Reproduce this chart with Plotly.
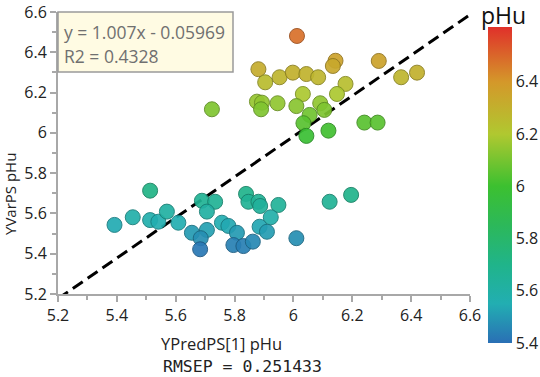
import plotly.graph_objects as go
from plotly.colors import sample_colorscale

# Data
y_pred = [6.012, 5.881, 5.904, 5.953, 5.998, 6.044, 6.084, 6.143, 6.134, 6.177,
          6.148, 6.032, 5.876, 5.893, 5.890, 5.946, 6.010, 6.091, 6.105, 6.055,
          6.034, 6.044, 6.119, 6.241, 6.286, 5.723, 6.290, 6.366, 6.420,
          5.392, 5.454, 5.513, 5.513, 5.541, 5.570, 5.609, 5.655, 5.689, 5.734,
          5.706, 5.706, 5.685, 5.683, 5.757, 5.779, 5.808, 5.796, 5.830, 5.862,
          5.839, 5.847, 5.881, 5.887, 5.949, 5.923, 5.885, 5.910, 6.010, 6.123,
          6.196]
y_var = [6.481, 6.316, 6.251, 6.276, 6.299, 6.292, 6.276, 6.358, 6.332, 6.243,
         6.193, 6.193, 6.155, 6.150, 6.117, 6.147, 6.133, 6.147, 6.114, 6.089,
         6.048, 5.985, 6.011, 6.051, 6.051, 6.117, 6.357, 6.276, 6.299,
         5.543, 5.581, 5.713, 5.567, 5.559, 5.609, 5.554, 5.504, 5.663, 5.658,
         5.609, 5.518, 5.477, 5.422, 5.554, 5.538, 5.504, 5.443, 5.438, 5.460,
         5.697, 5.658, 5.658, 5.637, 5.642, 5.581, 5.534, 5.509, 5.477, 5.658,
         5.692]

slope = 1.007
intercept = -0.05969
r2 = 0.4328
rmsep = 0.251433
x_range = [5.2, 6.6]
tick_vals = [5.2, 5.4, 5.6, 5.8, 6.0, 6.2, 6.4, 6.6]
tick_text = ["5.2", "5.4", "5.6", "5.8", "6", "6.2", "6.4", "6.6"]
cbar_ticks = [5.4, 5.6, 5.8, 6.0, 6.2, 6.4]
cbar_text = ["5.4", "5.6", "5.8", "6", "6.2", "6.4"]
cmin, cmax = 5.4, 6.61

colorscale = [
    [0.0, "#2a6fb5"],
    [0.124, "#22aeb2"],
    [0.248, "#20b48a"],
    [0.372, "#2cb85a"],
    [0.496, "#3cc030"],
    [0.661, "#b0c830"],
    [0.826, "#d4982a"],
    [1.0, "#e0302a"],
]

# darker outline per point
norm = [(v - cmin) / (cmax - cmin) for v in y_var]
fills = sample_colorscale(colorscale, norm, colortype="rgb")
def darker(c, f=0.72):
    nums = [float(t) for t in c[c.index("(") + 1:c.index(")")].split(",")]
    return "rgb(%d,%d,%d)" % tuple(int(n * f) for n in nums[:3])
edges = [darker(c) for c in fills]

FONT = "Open Sans, Noto Sans, sans-serif"

fig = go.Figure()

# regression line
line_x = x_range
line_y = [slope * v + intercept for v in line_x]
fig.add_trace(go.Scatter(
    x=line_x, y=line_y, mode="lines",
    line=dict(color="black", width=3, dash="12px,6px"),
    hoverinfo="skip", showlegend=False, cliponaxis=True))

fig.add_trace(go.Scatter(
    x=y_pred, y=y_var, mode="markers",
    marker=dict(size=15, color=y_var, colorscale=colorscale, cmin=cmin, cmax=cmax,
                opacity=0.92,
                line=dict(color=edges, width=1),
                showscale=True,
                colorbar=dict(
                    x=(488 - 58) / 412, xanchor="left", xref="paper",
                    y=(294 - 185) / 282, yanchor="middle", yref="paper",
                    lenmode="pixels", len=316, thickness=24,
                    thicknessmode="pixels",
                    outlinewidth=0, ticks="", tickvals=cbar_ticks,
                    ticktext=cbar_text,
                    tickfont=dict(family=FONT, size=16, color="#222"),
                    ypad=0, xpad=0)),
    showlegend=False))

axis_common = dict(
    showgrid=False, zeroline=False, showline=True, linecolor="#a8a8a8", linewidth=2,
    ticks="outside", ticklen=6, tickwidth=2, tickcolor="#a8a8a8",
    tickvals=tick_vals, ticktext=tick_text,
    minor=dict(dtick=0.1, ticks="outside", ticklen=4, tickwidth=2, tickcolor="#a8a8a8"),
    tickfont=dict(family=FONT, size=16, color="#222"),
    range=x_range, mirror=False, fixedrange=True, ticklabeloverflow="allow",
)

fig.update_layout(
    width=540, height=377,
    margin=dict(l=58, r=70, t=12, b=83, autoexpand=False),
    paper_bgcolor="white", plot_bgcolor="white",
    xaxis=dict(axis_common),
    yaxis=dict(axis_common),
    shapes=[dict(type="rect", xref="x domain", yref="y domain",
                 x0=0, x1=(233 - 58) / 412, y0=1 - 60 / 282, y1=1,
                 fillcolor="#fffbe3", line=dict(color="#9a9a9a", width=1.5), layer="above")],
    annotations=[
        dict(text="y = %.3fx - %.5f" % (slope, -intercept), xref="paper", yref="paper",
             x=4 / 412, y=1 - 20 / 282, xanchor="left", yanchor="middle", showarrow=False,
             font=dict(family=FONT, size=17.5, color="#707070")),
        dict(text="R2 = %.4f" % r2, xref="paper", yref="paper",
             x=4 / 412, y=1 - 44 / 282, xanchor="left", yanchor="middle", showarrow=False,
             font=dict(family=FONT, size=17.5, color="#707070")),
        dict(text="YPredPS[1] pHu", xref="paper", yref="paper",
             x=(221 - 58) / 412, y=(294 - 343) / 282, xanchor="center", yanchor="middle",
             showarrow=False,
             font=dict(family=FONT, size=16.5, color="#222")),
        dict(text="RMSEP = %.6f" % rmsep, xref="paper", yref="paper",
             x=(242 - 58) / 412, y=(294 - 367) / 282, xanchor="center", yanchor="middle",
             showarrow=False,
             font=dict(family="DejaVu Sans Mono, monospace", size=16.5, color="#222")),
        dict(text="YVarPS pHu", xref="paper", yref="paper", textangle=-90,
             x=(10 - 58) / 412, y=(294 - 194) / 282, xanchor="center", yanchor="middle",
             showarrow=False,
             font=dict(family=FONT, size=15, color="#222")),
        dict(text="pHu", xref="paper", yref="paper",
             x=(503 - 58) / 412, y=(294 - 15) / 282, xanchor="center", yanchor="middle",
             showarrow=False,
             font=dict(family=FONT, size=23, color="#111")),
    ],
)

# remove the default page margin so the 540x377 figure fills the window exactly
fig.write_html("out.html", config={"displayModeBar": False},
               post_script="document.body.style.margin='0';document.body.style.overflow='hidden';")
